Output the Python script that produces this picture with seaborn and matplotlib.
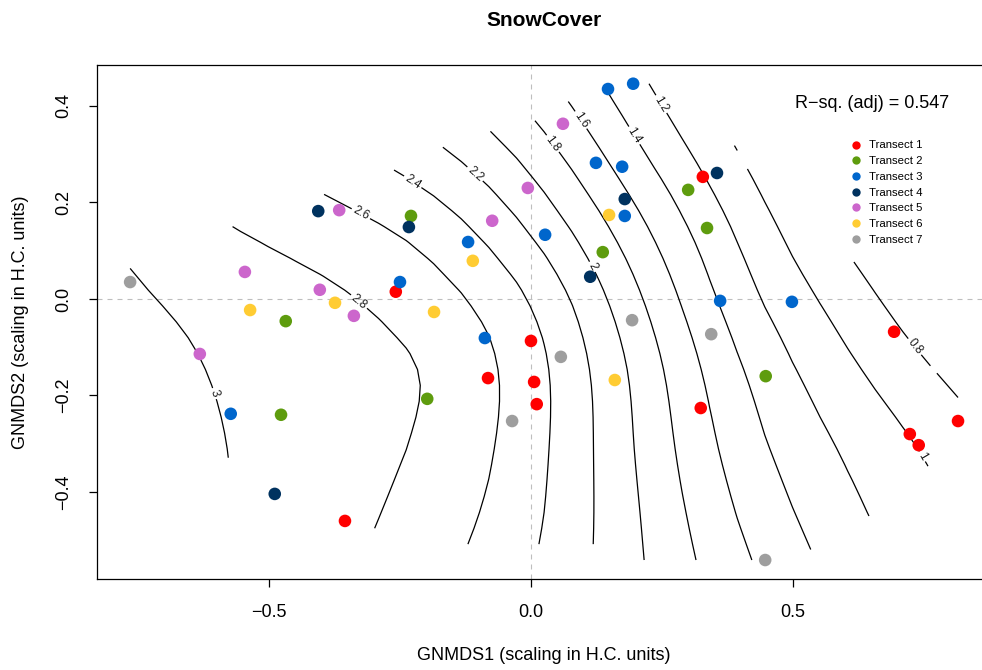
import numpy as np
import pandas as pd
import matplotlib
matplotlib.use("Agg")
import matplotlib.pyplot as plt
from matplotlib.path import Path
from matplotlib.lines import Line2D
import seaborn as sns

# ------------------------------------------------------------------ data
transect_names = ["Transect 1", "Transect 2", "Transect 3", "Transect 4",
                  "Transect 5", "Transect 6", "Transect 7"]
transect_colors = ["#FF0000", "#5E9C0E", "#0066CC", "#00325F",
                   "#CC66CC", "#FFCC33", "#9E9E9E"]

t1_x = [-0.258, -0.355, 0.000, -0.082, 0.006, 0.011, 0.328, 0.324, 0.693, 0.723, 0.740, 0.815]
t1_y = [0.015, -0.460, -0.087, -0.164, -0.172, -0.218, 0.253, -0.226, -0.068, -0.280, -0.303, -0.253]
t2_x = [-0.229, -0.468, -0.477, -0.198, 0.137, 0.300, 0.336, 0.448]
t2_y = [0.172, -0.046, -0.240, -0.207, 0.097, 0.226, 0.147, -0.160]
t3_x = [0.147, 0.195, 0.124, 0.174, 0.179, 0.027, -0.120, -0.250, -0.088, -0.573, 0.361, 0.498]
t3_y = [0.435, 0.446, 0.282, 0.274, 0.172, 0.133, 0.118, 0.035, -0.081, -0.238, -0.004, -0.006]
t4_x = [-0.406, -0.233, 0.113, 0.179, 0.355, -0.489]
t4_y = [0.182, 0.149, 0.046, 0.207, 0.261, -0.404]
t5_x = [-0.546, -0.632, -0.403, -0.366, -0.338, -0.074, -0.006, 0.061]
t5_y = [0.056, -0.114, 0.019, 0.184, -0.035, 0.162, 0.230, 0.363]
t6_x = [-0.536, -0.374, -0.185, -0.111, 0.149, 0.160]
t6_y = [-0.023, -0.008, -0.027, 0.079, 0.174, -0.168]
t7_x = [-0.765, -0.036, 0.057, 0.193, 0.344, 0.447]
t7_y = [0.035, -0.253, -0.120, -0.044, -0.073, -0.541]

# fitted SnowCover surface (coarse lattice)
surf_x = [-0.8, -0.6, -0.4, -0.2, 0.0, 0.2, 0.4, 0.6, 0.8]
surf_y = [0.45, 0.30, 0.15, 0.0, -0.15, -0.30, -0.45, -0.60]
snow_y045 = [2.57, 2.48, 2.29, 2.02, 1.69, 1.25, 0.83, 0.45, 0.25]
snow_y030 = [2.77, 2.65, 2.49, 2.27, 1.93, 1.445, 0.995, 0.60, 0.35]
snow_y015 = [2.97, 2.82, 2.69, 2.52, 2.17, 1.66, 1.155, 0.75, 0.45]
snow_y000 = [3.04, 2.94, 2.84, 2.69, 2.385, 1.84, 1.285, 0.91, 0.59]
snow_ym015 = [3.09, 2.99, 2.89, 2.79, 2.48, 1.955, 1.415, 1.05, 0.76]
snow_ym030 = [3.10, 3.01, 2.90, 2.77, 2.475, 1.99, 1.50, 1.17, 0.915]
snow_ym045 = [3.11, 3.02, 2.885, 2.72, 2.445, 2.02, 1.585, 1.26, 1.00]
snow_ym060 = [3.12, 3.03, 2.87, 2.65, 2.40, 2.04, 1.67, 1.35, 1.08]

contour_levels = [0.8, 1.0, 1.2, 1.4, 1.6, 1.8, 2.0, 2.2, 2.4, 2.6, 2.8, 3.0]
r2_adj = 0.547
title = "SnowCover"
x_label = "GNMDS1 (scaling in H.C. units)"
y_label = "GNMDS2 (scaling in H.C. units)"
x_ticks = [-0.5, 0.0, 0.5]
y_ticks = [-0.4, -0.2, 0.0, 0.2, 0.4]

# ------------------------------------------------------------------ frame
xs_all = [t1_x, t2_x, t3_x, t4_x, t5_x, t6_x, t7_x]
ys_all = [t1_y, t2_y, t3_y, t4_y, t5_y, t6_y, t7_y]
df = pd.concat([pd.DataFrame({"x": xv, "y": yv, "transect": nm})
                for xv, yv, nm in zip(xs_all, ys_all, transect_names)],
               ignore_index=True)

# ------------------------------------------------------------------ surface (thin plate spline)
SX, SY = np.meshgrid(np.array(surf_x), np.array(surf_y))
SZ = np.array([snow_y045, snow_y030, snow_y015, snow_y000,
               snow_ym015, snow_ym030, snow_ym045, snow_ym060])
nx_, ny_, nz_ = SX.ravel(), SY.ravel(), SZ.ravel()


def tps_fit(px, py, pz, lam=2e-4):
    n = len(px)
    d = np.hypot(px[:, None] - px[None, :], py[:, None] - py[None, :])
    K = np.where(d > 0, d ** 2 * np.log(np.where(d > 0, d, 1.0)), 0.0)
    A = np.zeros((n + 3, n + 3))
    A[:n, :n] = K + lam * np.eye(n)
    A[:n, n] = 1.0
    A[:n, n + 1] = px
    A[:n, n + 2] = py
    A[n, :n] = 1.0
    A[n + 1, :n] = px
    A[n + 2, :n] = py
    b = np.concatenate([pz, np.zeros(3)])
    coef = np.linalg.solve(A, b)

    def f(qx, qy):
        dq = np.hypot(qx[..., None] - px, qy[..., None] - py)
        Kq = np.where(dq > 0, dq ** 2 * np.log(np.where(dq > 0, dq, 1.0)), 0.0)
        return Kq @ coef[:n] + coef[n] + coef[n + 1] * qx + coef[n + 2] * qy
    return f


surface = tps_fit(nx_, ny_, nz_)

# grid like vegan::ordisurf (31 x 31 over the data range), masked outside the
# convex hull whose vertices are moved out by one grid step
px_all = df["x"].to_numpy()
py_all = df["y"].to_numpy()
npts = 31
gx = np.linspace(px_all.min(), px_all.max(), npts)
gy = np.linspace(py_all.min(), py_all.max(), npts)
GX, GY = np.meshgrid(gx, gy)


def convex_hull(points):
    pts = sorted(set(map(tuple, points)))

    def cross(o, a, b):
        return (a[0] - o[0]) * (b[1] - o[1]) - (a[1] - o[1]) * (b[0] - o[0])
    lower, upper = [], []
    for p in pts:
        while len(lower) >= 2 and cross(lower[-2], lower[-1], p) <= 0:
            lower.pop()
        lower.append(p)
    for p in reversed(pts):
        while len(upper) >= 2 and cross(upper[-2], upper[-1], p) <= 0:
            upper.pop()
        upper.append(p)
    return np.array(lower[:-1] + upper[:-1])


hull = convex_hull(np.column_stack([px_all, py_all]))
hx = hull[:, 0] + np.sign(hull[:, 0] - hull[:, 0].mean()) * np.ptp(px_all) / (npts - 1)
hy = hull[:, 1] + np.sign(hull[:, 1] - hull[:, 1].mean()) * np.ptp(py_all) / (npts - 1)
inside = Path(np.column_stack([hx, hy])).contains_points(
    np.column_stack([GX.ravel(), GY.ravel()])).reshape(GX.shape)
GZ = np.ma.array(surface(GX, GY), mask=~inside)

# ------------------------------------------------------------------ plot
sns.set_theme(style="ticks")
plt.rcParams["font.family"] = ["Liberation Sans", "DejaVu Sans"]
plt.rcParams["axes.unicode_minus"] = True
plt.rcParams["text.color"] = "black"
plt.rcParams["axes.labelcolor"] = "black"

fig = plt.figure(figsize=(9.82, 6.70), dpi=100)
ax = fig.add_axes([0.0989, 0.1357, 0.9103, 0.7678])

ax.axhline(0, color="#BEBEBE", lw=0.8, ls=(0, (4.5, 4.5)), zorder=1)
ax.axvline(0, color="#BEBEBE", lw=0.8, ls=(0, (4.5, 4.5)), zorder=1)

cs = ax.contour(GX, GY, GZ, levels=contour_levels, colors="black",
                linewidths=0.9, zorder=2)
label_spots = [(-0.601, -0.195), (-0.321, 0.004), (-0.323, 0.180),
               (-0.223, 0.247), (-0.105, 0.261), (0.116, 0.066),
               (0.038, 0.319), (0.090, 0.367), (0.193, 0.336),
               (0.246, 0.402), (0.746, -0.327), (0.737, -0.095)]
ax.clabel(cs, fmt=lambda v: f"{round(v, 1):g}", fontsize=8.6, inline=True,
          inline_spacing=3, manual=label_spots, colors="#1a1a1a")

sns.scatterplot(data=df, x="x", y="y", hue="transect", hue_order=transect_names,
                palette=transect_colors, s=82, edgecolor="none", linewidth=0,
                legend=False, ax=ax, zorder=3)

ax.set_xlim(-0.828, 0.878)
ax.set_ylim(-0.5805, 0.4855)
ax.set_xticks(x_ticks)
ax.set_xticklabels([f"{v:.1f}".replace("-", "\u2212") for v in x_ticks])
ax.set_yticks(y_ticks)
ax.set_yticklabels([f"{v:.1f}".replace("-", "\u2212") for v in y_ticks],
                   rotation=90, va="center")
ax.tick_params(axis="both", direction="out", length=6, width=0.9,
               color="black", labelsize=13, labelcolor="black")
ax.tick_params(axis="x", pad=12)
ax.tick_params(axis="y", pad=12)
for sp in ax.spines.values():
    sp.set_visible(True)
    sp.set_color("black")
    sp.set_linewidth(0.9)

ax.set_xlabel(x_label, fontsize=13, color="black", va="center")
ax.set_ylabel(y_label, fontsize=13, color="black", va="center")
ax.xaxis.set_label_coords(0.5, -0.1495)
ax.yaxis.set_label_coords(-0.0855, 0.5)

fig.text(544 / 982, 1 - 20.5 / 670, title, ha="center", va="center",
         fontsize=15, fontweight="bold", color="black")
fig.text(949 / 982, 1 - 104 / 670, f"R\u2212sq. (adj) = {r2_adj:.3f}",
         ha="right", va="center", fontsize=13, color="black")

handles = [Line2D([], [], marker="o", ls="", color=c, markersize=6,
                  markeredgewidth=0) for c in transect_colors]
fig.legend(handles, transect_names, loc="upper left",
           bbox_to_anchor=(851.5 / 982, 1 - 140.5 / 670),
           bbox_transform=fig.transFigure, frameon=False, fontsize=8.2,
           handlelength=0.8, handletextpad=0.7, labelspacing=0.5,
           borderpad=0, borderaxespad=0, labelcolor="black")

fig.savefig("out.png", dpi=100)
